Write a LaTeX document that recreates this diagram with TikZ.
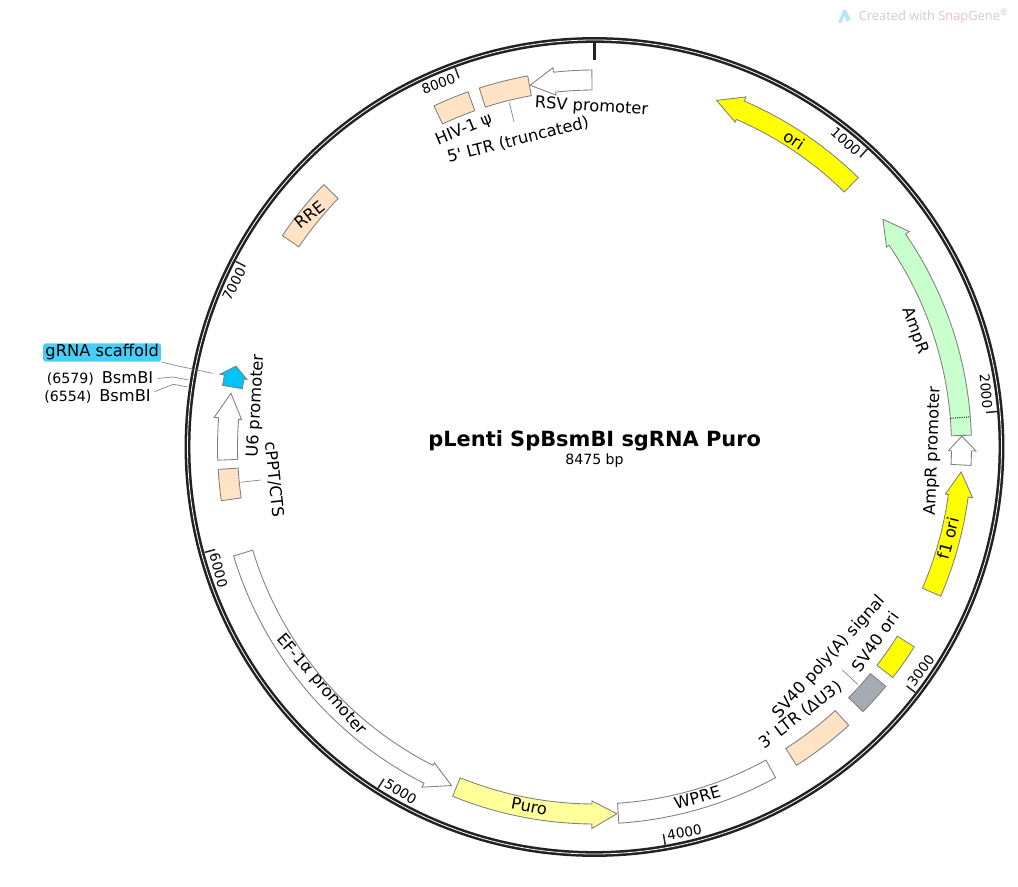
\documentclass[tikz,border=0pt]{standalone}
\usepackage{fontspec}
\setmainfont{DejaVu Sans}
\newfontfamily\wmfont{Open Sans}
\usepackage{tikz}
\definecolor{RingDark}{HTML}{222222}
\definecolor{Edge}{HTML}{808080}
\definecolor{Peach}{HTML}{FFE3C4}
\definecolor{PureYellow}{HTML}{FFFF00}
\definecolor{PaleYellow}{HTML}{FFFF99}
\definecolor{Mint}{HTML}{C8FFCC}
\definecolor{Slate}{HTML}{A6ABB3}
\definecolor{SkyFill}{HTML}{00C4F5}
\definecolor{SkyTag}{HTML}{45CFF7}
\definecolor{WmGrey}{HTML}{CCCCCC}
\definecolor{WmPink}{HTML}{F0BCBC}
\definecolor{WmBlue}{HTML}{BDE6F5}
\newcommand{\featbox}[3]{\draw[featline,fill=#3] ({#1-90}:377) arc ({#1-90}:{#2-90}:377) -- ({#2-90}:357) arc ({#2-90}:{#1-90}:357) -- cycle;}
\newcommand{\featarrow}[4]{\draw[featline,fill=#4] ({#1-90}:377) arc ({#1-90}:{#2-90}:377) -- ({#2-90}:381.5) -- ({#3-90}:367.5) -- ({#2-90}:354) -- ({#2-90}:357) arc ({#2-90}:{#1-90}:357) -- cycle;}
\newcommand{\ringtick}[5]{\draw[ticksty] ({#2-90}:404) -- ({#2-90}:393);
  \node (#1) [ticklbl,rotate=#3,anchor=#4] at ({#2-90}:395) {#5};}
\begin{document}
\begin{tikzpicture}[x=0.75pt,y=-0.75pt,
  featline/.style={draw=Edge,line width=0.65pt},
  ticksty/.style={draw=RingDark,line width=1.1pt},
  leader/.style={draw=Edge,line width=0.5pt},
  lbl/.style={font=\fontsize{12.2}{14}\selectfont,inner sep=0pt},
  ticklbl/.style={font=\fontsize{10.2}{12}\selectfont,inner sep=2.6pt},
  smalllbl/.style={font=\fontsize{10.6}{12}\selectfont,inner sep=0pt}]
  \useasboundingbox (0,0) rectangle (1018,887);
  \begin{scope}[shift={(594.5,447)}]
    \draw[RingDark,line width=4.4pt] (0,0) circle (407);
    \draw[white,line width=0.6pt] (0,0) circle (407);
    \draw[RingDark,line width=2.2pt] (-90:405) -- (-90:387);
    \ringtick{t1000}{42.48}{-42.48}{east}{1000}
    \ringtick{t2000}{84.96}{-84.96}{east}{2000}
    \ringtick{t3000}{127.43}{52.57}{west}{3000}
    \ringtick{t4000}{169.91}{10.09}{west}{4000}
    \ringtick{t5000}{212.39}{-32.39}{west}{5000}
    \ringtick{t6000}{254.87}{-74.87}{west}{6000}
    \ringtick{t7000}{297.35}{62.65}{east}{7000}
    \ringtick{t8000}{339.82}{20.18}{east}{8000}
    \featarrow{-0.4}{-6.25}{-10.1}{white}
    \featbox{-10.2}{-17.8}{Peach}
    \featbox{-19.6}{-25.2}{Peach}
    \featarrow{44.4}{23.4}{19.4}{PureYellow}
    \featarrow{88.2}{55.6}{51.7}{Mint}
    \draw[black,line width=0.7pt,densely dotted] (-4.6:357) -- (-4.6:377);
    \featarrow{92.8}{90.6}{88.3}{white}
    \featarrow{113.3}{97.65}{93.9}{PureYellow}
    \featbox{122}{127.7}{PureYellow}
    \featbox{129.4}{134.6}{Slate}
    \featbox{137.6}{147.6}{Peach}
    \featbox{151.3}{176.3}{white}
    \featarrow{202.1}{180.4}{176.5}{PaleYellow}
    \featarrow{253.2}{206.9}{202.9}{white}
    \featbox{261.8}{266.6}{Peach}
    \featarrow{268}{274.45}{278.4}{white}
    \featarrow{279.4}{281}{282.7}{SkyFill}
    \featbox{304.1}{314.1}{Peach}
  \end{scope}
  \node (title) [font=\bfseries\fontsize{15.7}{19}\selectfont,inner sep=0pt] at (594.7,441) {pLenti SpBsmBI sgRNA Puro};
  \node (size) [smalllbl] at (594.5,461) {8475 bp};
  \node (rsv) [lbl,rotate=-3.5] at (591.5,107) {RSV promoter};
  \node (ltrfive) [lbl,rotate=14] at (518,140) {5\textquotesingle{} LTR (truncated)};
  \node (psi) [lbl,rotate=22.4] at (464,130) {HIV-1 ψ};
  \node (orilbl) [lbl,rotate=-33] at (794,140) {ori};
  \node (amp) [lbl,rotate=-70] at (915,330.5) {AmpR};
  \node (amppro) [lbl,rotate=88] at (933,451) {AmpR promoter};
  \node (fone) [lbl,rotate=75] at (948.3,538.3) {f1 ori};
  \node (svori) [lbl,rotate=55] at (875,641.7) {SV40 ori};
  \node (svpoly) [lbl,rotate=48] at (829.3,657.3) {SV40 poly(A) signal};
  \node (ltrthree) [lbl,rotate=37.4] at (800.7,715) {3\textquotesingle{} LTR (ΔU3)};
  \node (wpre) [lbl,rotate=16] at (697.3,797.3) {WPRE};
  \node (puro) [lbl,rotate=-11] at (529.3,806.7) {Puro};
  \node (efone) [lbl,rotate=-49] at (321,685) {EF-1α promoter};
  \node (cppt) [lbl,rotate=-84] at (274,480) {cPPT/CTS};
  \node (usix) [lbl,rotate=86.8] at (256,406) {U6 promoter};
  \node (rre) [lbl,rotate=39] at (309.5,215) {RRE};
  \node (gscaf) [lbl,fill=SkyTag,rounded corners=2pt,minimum width=88.5pt,minimum height=13.8pt] at (102.2,352.5) {gRNA scaffold};
  \node (bsma) [lbl,anchor=east] at (153.5,378.5) {{\fontsize{10.6}{12}\selectfont(6579)}\hspace{6pt}BsmBI};
  \node (bsmb) [lbl,anchor=east] at (151,397) {{\fontsize{10.6}{12}\selectfont(6554)}\hspace{6pt}BsmBI};
  \coordinate (gbend) at (176.7,365.7);
  \coordinate (gend) at (212.7,373.3);
  \coordinate (bendA) at (173.3,377);
  \coordinate (cutA) at (188.3,380);
  \coordinate (bendB) at (173.3,384.3);
  \coordinate (cutB) at (187.7,387);
  \coordinate (ltrtop) at (509.3,102.7);
  \coordinate (ltrfoot) at (514,121.7);
  \coordinate (polytop) at (842.3,670);
  \coordinate (polyfoot) at (857.7,684.3);
  \coordinate (ctsleft) at (240.7,482.3);
  \coordinate (ctsright) at (260.7,480);
  \draw[leader] (gscaf.south east) -- (gbend) -- (gend);
  \draw[leader] ([xshift=3pt]bsma.east) -- (bendA) -- (cutA);
  \draw[leader] ([xshift=2.5pt,yshift=4pt]bsmb.east) -- (bendB) -- (cutB);
  \draw[leader] (ltrtop) -- (ltrfoot);
  \draw[leader] (polytop) -- (polyfoot);
  \draw[leader] (ctsleft) -- (ctsright);
  \fill[WmBlue] (838,23) -- (843,10) -- (846,10) -- (851,19) -- (847,22) -- (844,16) -- (842,23) -- cycle;
  \node (mark) [font=\wmfont\fontsize{9.65}{11}\selectfont,text=WmGrey,inner sep=0pt,anchor=east] at (1008.5,16.5) {Created with \textcolor{WmPink}{Snap}Gene\textsuperscript{®}};
\end{tikzpicture}
\end{document}
